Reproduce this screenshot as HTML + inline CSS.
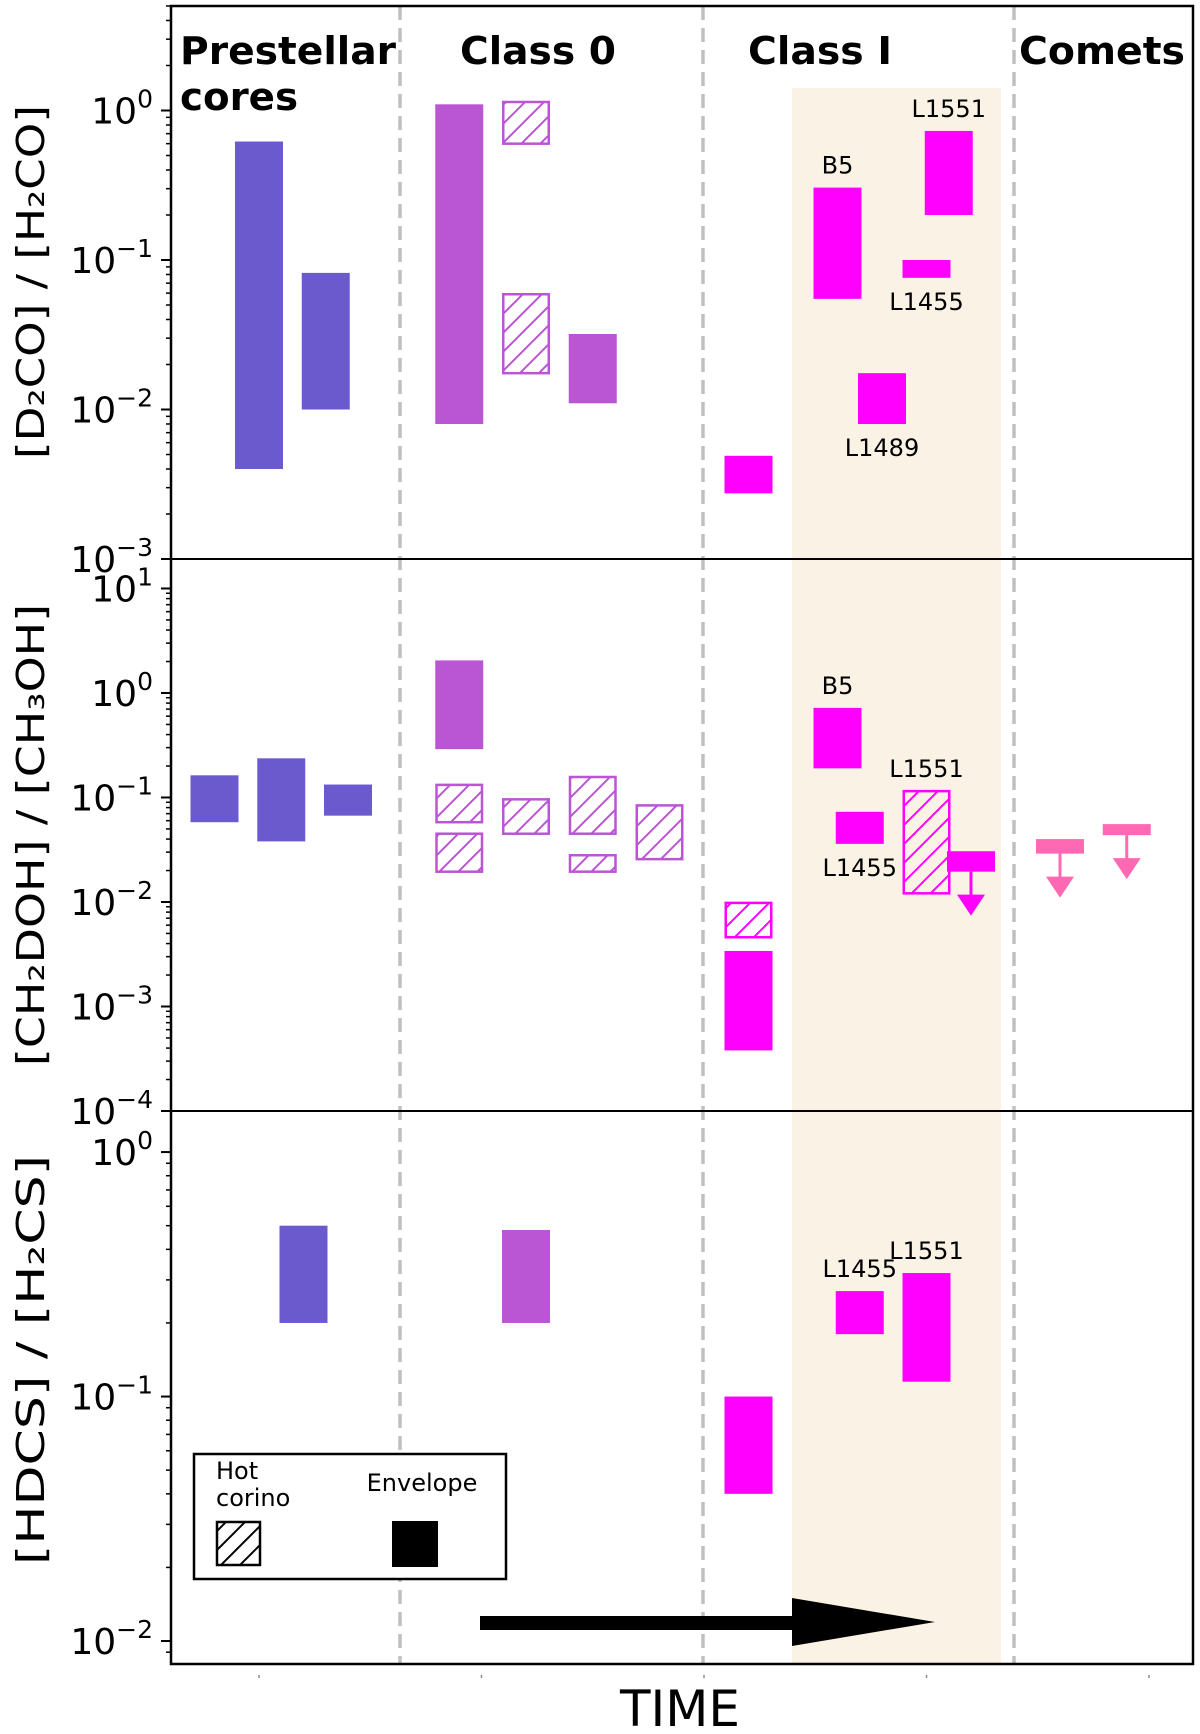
<!DOCTYPE html>
<html><head><meta charset="utf-8"><style>
body{margin:0;background:#fff}
svg{display:block;font-family:"DejaVu Sans","Liberation Sans",sans-serif}
</style></head><body>
<svg id="chart" width="1200" height="1734" viewBox="0 0 1200 1734" xmlns="http://www.w3.org/2000/svg">
<defs id="defs"></defs>
<g id="bg"></g><g id="marks"></g><g id="axes"></g>
</svg>
<script>
// ---- data ----
const categories = ["Prestellar cores","Class 0","Class I","Comets"];
const groupColors = ["#6a5acd","#ba55d3","#ff00ff","#ff69b4"];
// panel 1: [D2CO]/[H2CO]
const p1X = [0, 0.3, 0.9, 1.2, 1.2, 1.5, 2.2, 2.6, 2.8, 3.0, 3.1];
const p1Low = [0.004, 0.01, 0.008, 0.6, 0.0175, 0.011, 0.00275, 0.055, 0.008, 0.076, 0.2];
const p1High = [0.62, 0.082, 1.1, 1.14, 0.059, 0.032, 0.0049, 0.305, 0.0175, 0.1, 0.73];
const p1Group = [0,0,1,1,1,1,2,2,2,2,2];
const p1Hatch = [0,0,0,1,1,0,0,0,0,0,0];
const p1Limit = [0,0,0,0,0,0,0,0,0,0,0];
// panel 2: [CH2DOH]/[CH3OH]
const p2X = [-0.2, 0.1, 0.4, 0.9, 0.9, 0.9, 1.2, 1.5, 1.5, 1.8, 2.2, 2.2, 2.6, 2.7, 3.0, 3.2, 3.6, 3.9];
const p2Low = [0.058,0.038,0.067,0.29,0.058,0.0195,0.045,0.045,0.0195,0.0257,0.0046,0.00038,0.19,0.036,0.0121,0.0195,0.029,0.0436];
const p2High = [0.163,0.237,0.133,2.05,0.132,0.045,0.096,0.157,0.028,0.084,0.0098,0.0034,0.72,0.073,0.115,0.0306,0.04,0.0556];
const p2Group = [0,0,0,1,1,1,1,1,1,1,2,2,2,2,2,2,3,3];
const p2Hatch = [0,0,0,0,1,1,1,1,1,1,1,0,0,0,1,0,0,0];
const p2Limit = [0,0,0,0,0,0,0,0,0,0,0,0,0,0,0,1,1,1];
// panel 3: [HDCS]/[H2CS]
const p3X = [0.2, 1.2, 2.2, 2.7, 3.0];
const p3Low = [0.2, 0.2, 0.04, 0.18, 0.115];
const p3High = [0.5, 0.48, 0.1, 0.27, 0.32];
const p3Group = [0,1,2,2,2];
const p3Hatch = [0,0,0,0,0];
const p3Limit = [0,0,0,0,0];
const p1Ticks = [-3,-2,-1,0];
const p2Ticks = [-4,-3,-2,-1,0,1];
const p3Ticks = [-2,-1,0];
const labels1 = [["B5",2.6,0.305],["L1551",3.1,0.73],["L1455",3.0,0.076],["L1489",2.8,0.008]];
const labels2 = [["B5",2.6,0.72],["L1551",3.0,0.115],["L1455",2.7,0.036]];
const labels3 = [["L1455",2.7,0.27],["L1551",3.0,0.32]];

// ---- layout ----
const NS="http://www.w3.org/2000/svg";
const L=171,R=1193;
function xs(v){return 259+v*222.5;}
const panels=[
 {top:6,bottom:559,lmin:-3,lmax:0.699,X:p1X,lo:p1Low,hi:p1High,g:p1Group,h:p1Hatch,lim:p1Limit,ticks:p1Ticks,labels:labels1,title:"[D\u2082CO] / [H\u2082CO]",tl:354,tc:282},
 {top:559,bottom:1111,lmin:-4,lmax:1.282,X:p2X,lo:p2Low,hi:p2High,g:p2Group,h:p2Hatch,lim:p2Limit,ticks:p2Ticks,labels:labels2,title:"[CH\u2082DOH] / [CH\u2083OH]",tl:462,tc:835},
 {top:1111,bottom:1664,lmin:-2.094,lmax:0.168,X:p3X,lo:p3Low,hi:p3High,g:p3Group,h:p3Hatch,lim:p3Limit,ticks:p3Ticks,labels:labels3,title:"[HDCS] / [H\u2082CS]",tl:410,tc:1360}
];
function ys(p,v){return p.bottom-(Math.log10(v)-p.lmin)/(p.lmax-p.lmin)*(p.bottom-p.top);}
function mk(parent,tag,attrs,txt){const e=document.createElementNS(NS,tag);for(const k in attrs)e.setAttribute(k,attrs[k]);if(txt!==undefined)e.textContent=txt;parent.appendChild(e);return e;}
const defs=document.getElementById('defs'),bg=document.getElementById('bg'),marks=document.getElementById('marks'),axes=document.getElementById('axes');
groupColors.forEach((c,i)=>{const pt=mk(defs,'pattern',{id:'hatch'+i,patternUnits:'userSpaceOnUse',width:19,height:19});
 mk(pt,'path',{d:'M-5,5 L5,-5 M0,19 L19,0 M14,24 L24,14',stroke:c,'stroke-width':2});});
const ptk=mk(defs,'pattern',{id:'hatchk',patternUnits:'userSpaceOnUse',width:19,height:19});
mk(ptk,'path',{d:'M-5,5 L5,-5 M0,19 L19,0 M14,24 L24,14',stroke:'#000','stroke-width':2});

// shaded band
const band=mk(bg,'rect',{x:792,y:88,width:209,height:1576,fill:'#faf3e5'});


// dashed separators
[400,703,1014].forEach(x=>{const l=mk(bg,'line',{x1:x,y1:6,x2:x,y2:1664,stroke:'#c0c0c0','stroke-width':3.5,'stroke-dasharray':'14,8'});
 
 });

panels.forEach((p,pi)=>{
 p.X.forEach((x,i)=>{
  const c=groupColors[p.g[i]],bw=48,cx=xs(x);
  const y1=ys(p,p.hi[i]),y2=ys(p,p.lo[i]);
  const r=mk(marks,'rect',{x:cx-bw/2,y:y1,width:bw,height:y2-y1});
  
  
  if(p.h[i]){r.setAttribute('fill','url(#hatch'+p.g[i]+')');r.setAttribute('stroke',c);r.setAttribute('stroke-width',2.5);r.setAttribute('x',cx-bw/2+1.25);r.setAttribute('width',bw-2.5);}
  else r.setAttribute('fill',c);
  if(p.lim[i]){
   const tip=y2+44;
   mk(marks,'line',{x1:cx,y1:y2,x2:cx,y2:tip-18,stroke:c,'stroke-width':3});
   const a=mk(marks,'path',{d:`M${cx-14},${tip-21} L${cx+14},${tip-21} L${cx},${tip} Z`,fill:c});
   
   
  }
 });
 p.labels.forEach(([t,x,v])=>{
  const isTop=(t==="B5"||t==="L1551"||(pi===2));
  const y=isTop? ys(p,v)-14 : ys(p,v)+32;
  const tx=mk(marks,'text',{x:xs(x),y:y,'text-anchor':'middle','font-size':24,fill:'#000'},t);
  
  
 });
 // ticks
 for(let d=Math.floor(p.lmin);d<=Math.ceil(p.lmax);d++){
  for(let m=1;m<10;m++){const lv=d+Math.log10(m);if(lv<p.lmin-1e-6||lv>p.lmax)continue;
   const y=ys(p,Math.pow(10,lv));const len=m===1?10:5;
   mk(axes,'line',{x1:L-len,y1:y,x2:L,y2:y,stroke:'#000','stroke-width':m===1?2:1.5});}
 }
 p.ticks.forEach(t=>{const y=ys(p,Math.pow(10,t));
  const tx=mk(axes,'text',{x:153,y:y+13,'text-anchor':'end','font-size':36,fill:'#000'});
  
  
  mk(tx,'tspan',{},'10');mk(tx,'tspan',{dy:-16,'font-size':25},t<0?'\u2212'+(-t):String(t));
 });
 const yt=mk(axes,'text',{x:0,y:0,transform:`translate(44,${p.tc}) rotate(-90)`,'text-anchor':'middle','font-size':38,textLength:p.tl,lengthAdjust:'spacingAndGlyphs',fill:'#000'},p.title);
 
 
});
// frame and dividers
const fr=mk(axes,'rect',{x:L,y:6,width:R-L,height:1658,fill:'none',stroke:'#000','stroke-width':2.5});


[559,1111].forEach(y=>{mk(axes,'line',{x1:L,y1:y,x2:R,y2:y,stroke:'#000','stroke-width':2});});
// x ticks
[0,1,2,3,4].forEach(v=>{mk(axes,'line',{x1:xs(v),y1:1675,x2:xs(v),y2:1678,stroke:'#888','stroke-width':1.5});});
// headers
const hd=[["Prestellar",180,64,'start',216],["cores",180,110,'start',118],["Class 0",538,64,'middle',156],["Class I",820,64,'middle',144],["Comets",1102,64,'middle',166]];
hd.forEach(([t,x,y,a,w])=>{const e=mk(axes,'text',{x:x,y:y,'text-anchor':a,'font-size':38,'font-weight':'bold',textLength:w,lengthAdjust:'spacingAndGlyphs',fill:'#000'},t);
 
 });
// legend
const lg=mk(axes,'g',{});


mk(lg,'rect',{x:194,y:1454,width:312,height:125,fill:'#fff',stroke:'#000','stroke-width':2.5});
mk(lg,'text',{x:216,y:1479,'font-size':24},'Hot');
mk(lg,'text',{x:216,y:1506,'font-size':24},'corino');
mk(lg,'text',{x:422,y:1491,'font-size':24,'text-anchor':'middle'},'Envelope');
const lh=mk(lg,'rect',{x:217,y:1522,width:43,height:43,fill:'url(#hatchk)',stroke:'#000','stroke-width':2.5});


const le=mk(lg,'rect',{x:392,y:1521,width:46,height:46,fill:'#000'});


// time arrow
const ar=mk(axes,'path',{d:'M480,1616 L792,1616 L792,1598 L935,1622 L792,1646 L792,1630 L480,1630 Z',fill:'#000'});


const xt=mk(axes,'text',{x:680,y:1726,'text-anchor':'middle','font-size':50,fill:'#000'},'TIME');


</script>
</body></html>
